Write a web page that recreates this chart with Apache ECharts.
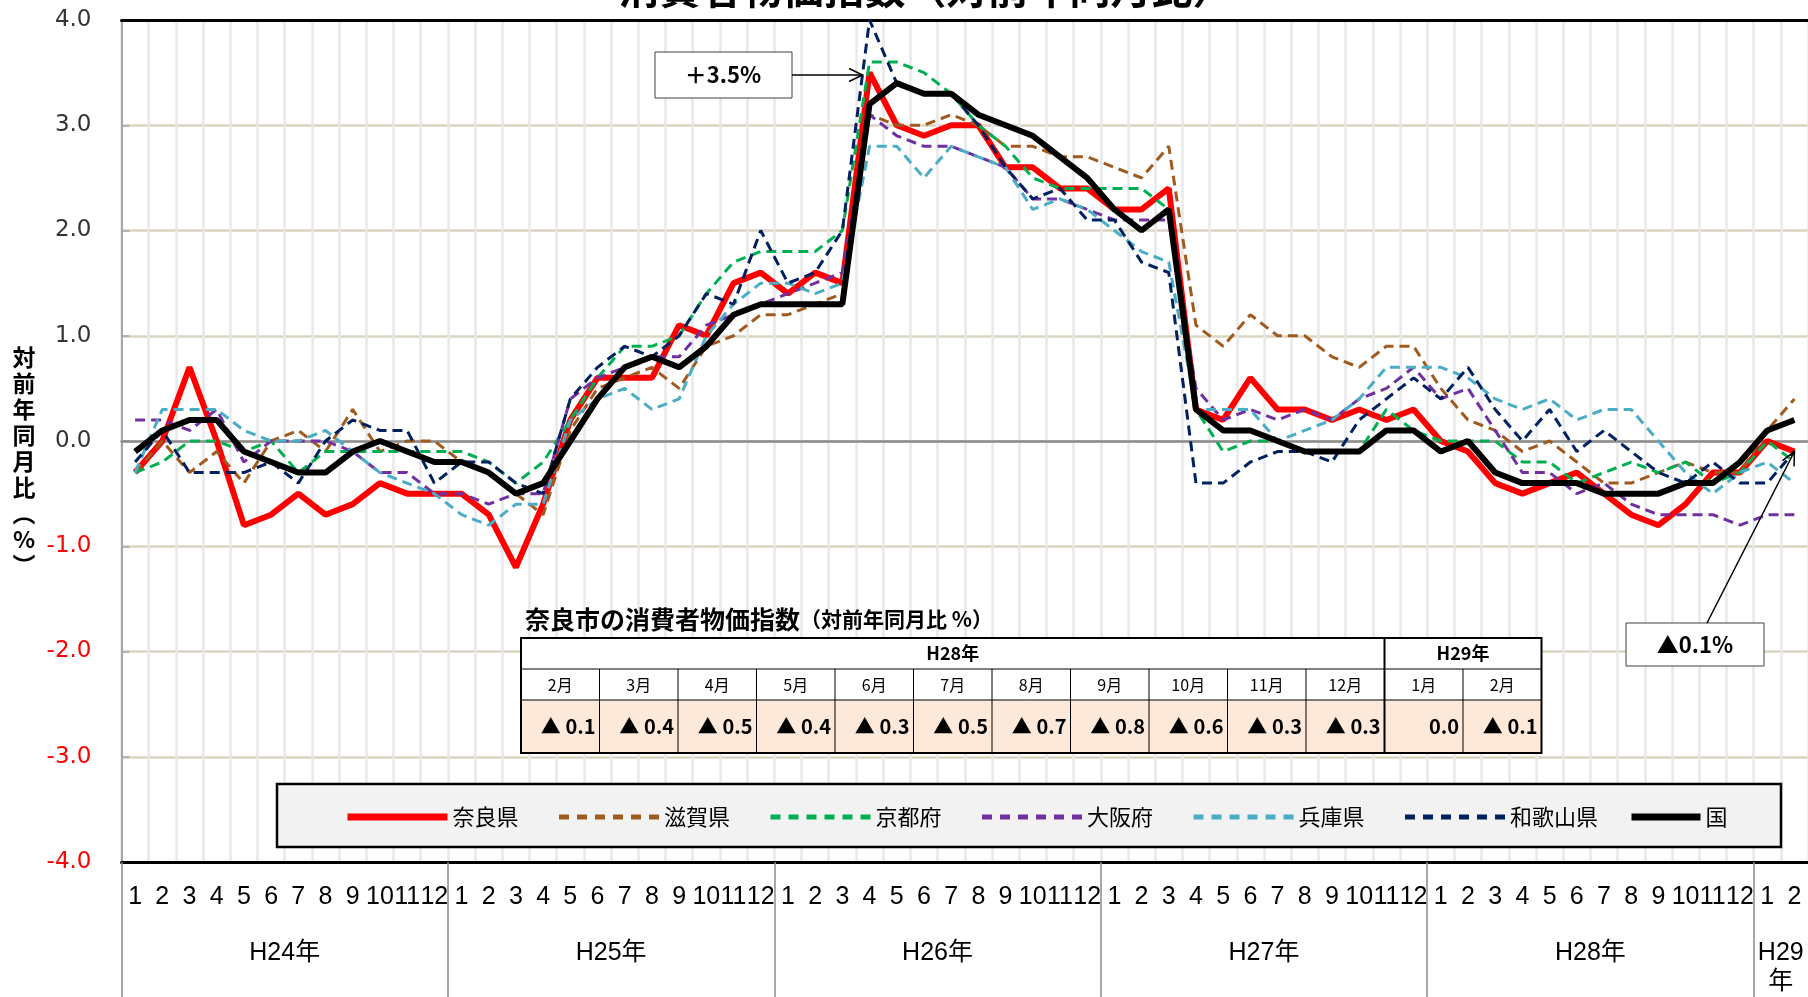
<!DOCTYPE html>
<html>
<head>
<meta charset="utf-8">
<script src="https://cdn.jsdelivr.net/npm/echarts@6/dist/echarts.min.js"></script>
<style>
html,body{margin:0;padding:0;background:#fff;}
#main{width:1808px;height:997px;}
</style>
</head>
<body>
<div id="main"></div>
<script>
// 年区分（H29は2か月のみ）
var yearNames = ['H24年', 'H25年', 'H26年', 'H27年', 'H28年', 'H29\n年'];
var monthsInYear = [12, 12, 12, 12, 12, 2];

var seriesNames = ['奈良県', '滋賀県', '京都府', '大阪府', '兵庫県', '和歌山県', '国'];

var nara = [
    -0.3, 0.0, 0.7, 0.0, -0.8, -0.7, -0.5, -0.7, -0.6, -0.4, -0.5, -0.5,
    -0.5, -0.7, -1.2, -0.6, 0.2, 0.6, 0.6, 0.6, 1.1, 1.0, 1.5, 1.6,
    1.4, 1.6, 1.5, 3.5, 3.0, 2.9, 3.0, 3.0, 2.6, 2.6, 2.4, 2.4,
    2.2, 2.2, 2.4, 0.3, 0.2, 0.6, 0.3, 0.3, 0.2, 0.3, 0.2, 0.3,
    0.0, -0.1, -0.4, -0.5, -0.4, -0.3, -0.5, -0.7, -0.8, -0.6, -0.3, -0.3,
    0.0, -0.1
];
var shiga = [
    -0.3, 0.0, -0.3, -0.1, -0.4, 0.0, 0.1, -0.1, 0.3, -0.1, 0.0, 0.0,
    -0.2, -0.3, -0.5, -0.7, 0.1, 0.5, 0.6, 0.7, 0.5, 0.9, 1.0, 1.2,
    1.2, 1.3, 1.4, 3.1, 3.0, 3.0, 3.1, 3.0, 2.8, 2.8, 2.7, 2.7,
    2.6, 2.5, 2.8, 1.1, 0.9, 1.2, 1.0, 1.0, 0.8, 0.7, 0.9, 0.9,
    0.5, 0.2, 0.1, -0.1, 0.0, -0.2, -0.4, -0.4, -0.3, -0.2, -0.3, -0.3,
    0.1, 0.4
];
var kyoto = [
    -0.3, -0.2, 0.0, 0.0, -0.1, 0.0, -0.3, -0.1, -0.1, -0.1, -0.1, -0.1,
    -0.1, -0.2, -0.4, -0.2, 0.2, 0.6, 0.9, 0.9, 1.0, 1.4, 1.7, 1.8,
    1.8, 1.8, 2.0, 3.6, 3.6, 3.5, 3.3, 3.0, 2.8, 2.5, 2.4, 2.4,
    2.4, 2.4, 2.2, 0.3, -0.1, 0.0, 0.0, -0.1, -0.1, -0.1, 0.3, 0.1,
    0.0, 0.0, 0.0, -0.2, -0.2, -0.4, -0.3, -0.2, -0.3, -0.2, -0.4, -0.3,
    0.0, -0.2
];
var osaka = [
    0.2, 0.2, 0.1, 0.3, -0.2, 0.0, 0.0, 0.0, -0.1, -0.3, -0.3, -0.5,
    -0.5, -0.6, -0.5, -0.5, 0.4, 0.6, 0.7, 0.8, 0.8, 1.1, 1.2, 1.3,
    1.4, 1.5, 1.6, 3.1, 2.9, 2.8, 2.8, 2.7, 2.6, 2.3, 2.3, 2.2,
    2.1, 2.1, 2.1, 0.5, 0.2, 0.3, 0.2, 0.3, 0.2, 0.4, 0.5, 0.7,
    0.4, 0.5, 0.1, -0.3, -0.3, -0.5, -0.4, -0.6, -0.7, -0.7, -0.7, -0.8,
    -0.7, -0.7
];
var hyogo = [
    -0.3, 0.3, 0.3, 0.3, 0.1, 0.0, 0.0, 0.1, -0.1, -0.3, -0.4, -0.5,
    -0.7, -0.8, -0.6, -0.6, 0.2, 0.4, 0.5, 0.3, 0.4, 1.0, 1.3, 1.5,
    1.5, 1.4, 1.5, 2.8, 2.8, 2.5, 2.8, 2.7, 2.6, 2.2, 2.3, 2.2,
    2.0, 1.8, 1.7, 0.3, 0.3, 0.3, 0.0, 0.1, 0.2, 0.4, 0.7, 0.7,
    0.7, 0.6, 0.4, 0.3, 0.4, 0.2, 0.3, 0.3, 0.0, -0.3, -0.5, -0.3,
    -0.2, -0.4
];
var wakayama = [
    -0.2, 0.1, -0.3, -0.3, -0.3, -0.2, -0.4, 0.0, 0.2, 0.1, 0.1, -0.4,
    -0.2, -0.2, -0.4, -0.5, 0.4, 0.7, 0.9, 0.8, 1.0, 1.4, 1.3, 2.0,
    1.5, 1.6, 2.0, 4.0, 3.4, 3.3, 3.3, 3.0, 2.6, 2.3, 2.4, 2.1,
    2.1, 1.7, 1.6, -0.4, -0.4, -0.2, -0.1, -0.1, -0.2, 0.2, 0.4, 0.6,
    0.4, 0.7, 0.3, 0.0, 0.3, -0.1, 0.1, -0.1, -0.3, -0.4, -0.2, -0.4,
    -0.4, -0.1
];
var kuni = [
    -0.1, 0.1, 0.2, 0.2, -0.1, -0.2, -0.3, -0.3, -0.1, 0.0, -0.1, -0.2,
    -0.2, -0.3, -0.5, -0.4, 0.0, 0.4, 0.7, 0.8, 0.7, 0.9, 1.2, 1.3,
    1.3, 1.3, 1.3, 3.2, 3.4, 3.3, 3.3, 3.1, 3.0, 2.9, 2.7, 2.5,
    2.2, 2.0, 2.2, 0.3, 0.1, 0.1, 0.0, -0.1, -0.1, -0.1, 0.1, 0.1,
    -0.1, 0.0, -0.3, -0.4, -0.4, -0.4, -0.5, -0.5, -0.5, -0.4, -0.4, -0.2,
    0.1, 0.2
];

// 奈良市の表
var tableYears = ['H28年', 'H29年'];
var tableYearSpan = [11, 2];
var tableMonths = ['2月', '3月', '4月', '5月', '6月', '7月', '8月', '9月', '10月', '11月', '12月', '1月', '2月'];
var tableValues = [-0.1, -0.4, -0.5, -0.4, -0.3, -0.5, -0.7, -0.8, -0.6, -0.3, -0.3, 0.0, -0.1];

// 月カテゴリと年の区切り
var months = [];
var yearStarts = [];
var yearMids = [];
yearNames.forEach(function (y, i) {
    yearStarts.push(months.length);
    yearMids.push(months.length + monthsInYear[i] / 2);
    for (var m = 1; m <= monthsInYear[i]; m++) months.push(String(m));
});

var jp = "'Noto Sans CJK JP', sans-serif";
var narrow = "'Liberation Sans Narrow', 'Liberation Sans', 'Noto Sans CJK JP', sans-serif";
var dash = [10, 6];

function line(name, data, color, width, type, z) {
    return {
        name: name, type: 'line', data: data, symbol: 'none',
        xAxisIndex: 0, yAxisIndex: 0,
        lineStyle: { color: color, width: width, type: type },
        itemStyle: { color: color },
        emphasis: { disabled: true },
        z: z
    };
}

// 凡例の線（太め・点線は四角い点）
var legendData = seriesNames.map(function (n, i) {
    var solid = (i === 0 || i === seriesNames.length - 1);
    return { name: n, lineStyle: solid ? { width: 7 } : { width: 5, type: [10, 8] } };
});
var legendBase = {
    top: 801, itemHeight: 14,
    itemStyle: { opacity: 0 },
    textStyle: { fontSize: 22, fontFamily: jp, color: '#000' }
};

var chart = echarts.init(document.getElementById('main'));

var option = {
    animation: false,
    backgroundColor: '#fff',
    grid: { left: 121.5, right: -7, top: 20, bottom: 133 },
    legend: [
        Object.assign({}, legendBase, { left: 339, itemWidth: 100, itemGap: 38, data: legendData.slice(0, 6) }),
        Object.assign({}, legendBase, { left: 1623, itemWidth: 69, data: legendData.slice(6) })
    ],
    xAxis: [
        {   // 縦の目盛線
            type: 'category', data: months, position: 'bottom',
            axisLine: { show: false, onZero: false },
            axisTick: { show: false }, axisLabel: { show: false },
            splitLine: { show: true, interval: 0, lineStyle: { color: '#e8e8e8', width: 2.5 } }
        },
        {   // 0 の軸
            type: 'category', data: months, position: 'bottom', z: 2,
            axisLine: { onZero: true, lineStyle: { color: '#8c8c8c', width: 2.5 } },
            axisTick: { inside: true, length: 7, interval: 0, lineStyle: { color: '#8c8c8c', width: 1.5 } },
            axisLabel: { show: false },
            splitLine: { show: false }
        },
        {   // 月ラベル
            type: 'category', data: months, position: 'bottom', z: 2,
            axisLine: { onZero: false, lineStyle: { color: '#000', width: 3 } },
            axisTick: { length: 65, interval: 0, lineStyle: { color: '#8c8c8c', width: 1.5 } },
            axisLabel: { interval: 0, margin: 22, fontSize: 25, lineHeight: 26, fontFamily: narrow, color: '#000' },
            splitLine: { show: false }
        },
        {   // 上端
            type: 'category', data: months, position: 'top', z: 2,
            axisLine: { onZero: false, lineStyle: { color: '#000', width: 3 } },
            axisTick: { show: false }, axisLabel: { show: false }, splitLine: { show: false }
        },
        {   // 年ラベル
            type: 'value', position: 'bottom', min: 0, max: months.length, z: 2,
            axisLine: { show: false, onZero: false },
            axisTick: { show: true, customValues: yearStarts, length: 140, lineStyle: { color: '#8c8c8c', width: 1.5 } },
            axisLabel: {
                customValues: yearMids, margin: 77, fontSize: 25, lineHeight: 29,
                fontFamily: narrow, color: '#000',
                formatter: function (v) {
                    var k = yearMids.indexOf(v);
                    return k < 0 ? '' : yearNames[k];
                }
            },
            splitLine: { show: false }
        }
    ],
    yAxis: {
        type: 'value', min: -4, max: 4, interval: 1,
        axisLine: { show: true, onZero: false, lineStyle: { color: '#a6a6a6', width: 2 } },
        axisTick: { show: true, inside: true, length: 8, lineStyle: { color: '#a6a6a6', width: 1.5 } },
        axisLabel: {
            margin: 30, fontSize: 23, fontFamily: "'DejaVu Sans', Verdana, sans-serif",
            formatter: function (v) { return v.toFixed(1); },
            color: function (v) { return Number(v) < 0 ? '#ff0000' : '#333'; }
        },
        splitLine: { lineStyle: { color: '#dad5c0', width: 2.5 } }
    },
    series: [
        line('奈良県', nara, '#ff0000', 6, 'solid', 3),
        line('滋賀県', shiga, '#a05a1e', 3, dash, 4),
        line('京都府', kyoto, '#00b050', 3, dash, 4),
        line('大阪府', osaka, '#7030a0', 3, dash, 4),
        line('兵庫県', hyogo, '#4bacc6', 3, dash, 4),
        line('和歌山県', wakayama, '#002060', 3, dash, 4),
        line('国', kuni, '#000000', 6, 'solid', 5)
    ]
};

chart.setOption(option);

// ---- 注記・表などの図形 ----
function arrow(x1, y1, x2, y2) {
    var a = Math.atan2(y2 - y1, x2 - x1), L = 15, t = 0.45;
    return [
        { type: 'line', z: 10, shape: { x1: x1, y1: y1, x2: x2, y2: y2 }, style: { stroke: '#000', lineWidth: 1.5 } },
        { type: 'polyline', z: 10, shape: { points: [
            [x2 - L * Math.cos(a - t), y2 - L * Math.sin(a - t)], [x2, y2],
            [x2 - L * Math.cos(a + t), y2 - L * Math.sin(a + t)]] },
          style: { stroke: '#000', lineWidth: 1.5, fill: null } }
    ];
}
function pct(v) { return (v < 0 ? '▲' : '＋') + Math.abs(v).toFixed(1) + '%'; }
function cell(v) { return v < 0 ? '▲ ' + Math.abs(v).toFixed(1) : v.toFixed(1); }

var els = [];

// タイトル（上が切れている）
els.push({ type: 'text', z: 10, style: { text: '消費者物価指数（対前年同月比）', x: 926, y: 9,
    align: 'center', verticalAlign: 'bottom', font: 'bold 41px ' + jp, fill: '#000' } });

// 縦軸名
els.push({ type: 'text', z: 10, style: { text: '対\n前\n年\n同\n月\n比\n︵\n%\n︶', x: 24, y: 344,
    align: 'center', verticalAlign: 'top', font: 'bold 23px ' + jp, lineHeight: 26, fill: '#000' } });

// 凡例の枠
els.push({ type: 'rect', z: 3, shape: { x: 277, y: 784, width: 1504, height: 63 },
    style: { fill: '#f2f2f2', stroke: '#000', lineWidth: 2.5 } });

// 表
(function () {
    var x0 = 521, y0 = 638, cw = 78.5, h0 = 31, h1 = 31, h2 = 53;
    var n = tableMonths.length, W = cw * n, H = h0 + h1 + h2;
    els.push({ type: 'text', z: 10, style: {
        text: '{a|奈良市の消費者物価指数}{b|（対前年同月比 %）}', x: 525, y: 619, verticalAlign: 'middle',
        rich: { a: { fontSize: 25, fontWeight: 'bold', fontFamily: jp, fill: '#000' },
                b: { fontSize: 21, fontWeight: 'bold', fontFamily: jp, fill: '#000' } } } });
    els.push({ type: 'rect', z: 10, shape: { x: x0, y: y0, width: W, height: h0 + h1 }, style: { fill: '#fff' } });
    els.push({ type: 'rect', z: 10, shape: { x: x0, y: y0 + h0 + h1, width: W, height: h2 }, style: { fill: '#fde9d9' } });
    [y0 + h0, y0 + h0 + h1].forEach(function (y) {
        els.push({ type: 'line', z: 11, shape: { x1: x0, y1: y, x2: x0 + W, y2: y }, style: { stroke: '#000', lineWidth: 1 } });
    });
    var c = 0, bounds = {};
    tableYears.forEach(function (yn, k) {
        var span = tableYearSpan[k];
        els.push({ type: 'text', z: 11, style: { text: yn, x: x0 + cw * (c + span / 2), y: y0 + h0 / 2,
            align: 'center', verticalAlign: 'middle', font: 'bold 18px ' + jp, fill: '#000' } });
        if (c > 0) {
            bounds[c] = true;
            els.push({ type: 'line', z: 11, shape: { x1: x0 + cw * c, y1: y0, x2: x0 + cw * c, y2: y0 + H }, style: { stroke: '#000', lineWidth: 2 } });
        }
        c += span;
    });
    for (var i = 0; i < n; i++) {
        if (i > 0 && !bounds[i]) {
            els.push({ type: 'line', z: 11, shape: { x1: x0 + cw * i, y1: y0 + h0, x2: x0 + cw * i, y2: y0 + H }, style: { stroke: '#000', lineWidth: 1 } });
        }
        els.push({ type: 'text', z: 11, style: { text: tableMonths[i], x: x0 + cw * (i + 0.5), y: y0 + h0 + h1 / 2,
            align: 'center', verticalAlign: 'middle', font: '16px ' + jp, fill: '#000' } });
        els.push({ type: 'text', z: 11, style: { text: cell(tableValues[i]), x: x0 + cw * (i + 1) - 4, y: y0 + h0 + h1 + h2 / 2,
            align: 'right', verticalAlign: 'middle', font: 'bold 20px ' + jp, fill: '#000' } });
    }
    els.push({ type: 'rect', z: 12, shape: { x: x0, y: y0, width: W, height: H }, style: { fill: null, stroke: '#000', lineWidth: 2 } });
})();

// 注記（+3.5% と ▲0.1%）
var peak = 27, last = months.length - 1;
var p1 = chart.convertToPixel({ xAxisIndex: 0, yAxisIndex: 0 }, [peak, nara[peak]]);
var p2 = chart.convertToPixel({ xAxisIndex: 0, yAxisIndex: 0 }, [last, nara[last]]);

els.push({ type: 'rect', z: 10, shape: { x: 655, y: 52, width: 137, height: 46 }, style: { fill: '#fff', stroke: '#404040', lineWidth: 1 } });
els.push({ type: 'text', z: 11, style: { text: pct(nara[peak]), x: 723, y: 75, align: 'center', verticalAlign: 'middle', font: 'bold 22px ' + jp, fill: '#000' } });
els = els.concat(arrow(792, 75, p1[0] - 7, 75));

els.push({ type: 'rect', z: 10, shape: { x: 1626, y: 623, width: 138, height: 43 }, style: { fill: '#fff', stroke: '#404040', lineWidth: 1 } });
els.push({ type: 'text', z: 11, style: { text: pct(tableValues[tableValues.length - 1]), x: 1695, y: 645, align: 'center', verticalAlign: 'middle', font: 'bold 22px ' + jp, fill: '#000' } });
els = els.concat(arrow(1707, 623, p2[0], p2[1]));

chart.setOption({ graphic: { elements: els } });
</script>
</body>
</html>
